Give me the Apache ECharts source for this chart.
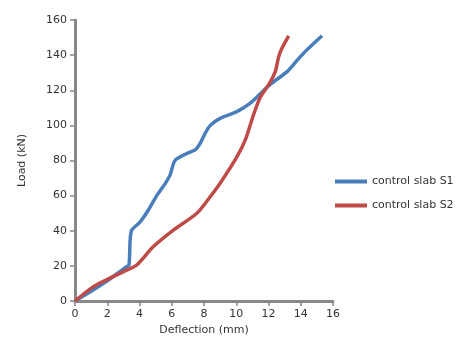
<!DOCTYPE html>
<html><head><meta charset="utf-8">
<script src="https://cdn.jsdelivr.net/npm/echarts@6/dist/echarts.min.js"></script>
<style>html,body{margin:0;padding:0;background:#fff}#c{width:466px;height:346px}</style>
</head><body><div id="c"></div>
<script>
const s1Name = "control slab S1";
const s2Name = "control slab S2";
const s1X = [0, 1, 2, 3.2, 3.35, 3.42, 3.52, 4.04, 4.55, 5.07, 5.6, 5.9, 6.2, 6.94, 7.45, 7.76, 8.07, 8.39, 9.0, 10.04, 10.87, 11.6, 12.2, 13.15, 13.77, 14.39, 15.32];
const s1Y = [0, 5.5, 11.5, 19.5, 20.5, 34.7, 40.4, 45, 51.8, 60, 67, 71.8, 80, 84, 86, 89.8, 95.5, 100, 104, 107.8, 112.6, 119, 124, 130.6, 137, 143, 151];
const s2X = [0, 1.14, 2.17, 3.2, 3.83, 4.86, 6.1, 7.56, 8.39, 9.0, 10.04, 10.56, 11.07, 11.49, 12.0, 12.42, 12.63, 12.84, 13.25];
const s2Y = [0, 8.2, 13, 17.6, 20.5, 31, 40.4, 50, 59.4, 67, 82, 91.7, 106, 116, 123, 130.6, 139, 144, 151];
const xTicks = [0, 2, 4, 6, 8, 10, 12, 14, 16];
const yTicks = [0, 20, 40, 60, 80, 100, 120, 140, 160];

const font = "DejaVu Sans";
const pairs = (xs, ys) => xs.map((x, i) => [x, ys[i]]);
const axisCommon = {
  axisLine: {show: true, lineStyle: {color: '#888', width: 3}},
  axisTick: {show: true, length: 5, lineStyle: {color: '#888', width: 1.5}},
  splitLine: {show: false},
  axisLabel: {color: '#333', fontFamily: font, fontSize: 11},
  nameTextStyle: {color: '#333', fontFamily: font, fontSize: 11}
};
const chart = echarts.init(document.getElementById('c'));
chart.setOption({
  animation: false,
  grid: {left: 75, top: 20, right: 133, bottom: 45},
  xAxis: Object.assign({}, axisCommon, {
    type: 'value', min: xTicks[0], max: xTicks[xTicks.length - 1], interval: 2,
    name: 'Deflection (mm)', nameLocation: 'middle', nameGap: 22
  }),
  yAxis: Object.assign({}, axisCommon, {
    type: 'value', min: yTicks[0], max: yTicks[yTicks.length - 1], interval: 20,
    name: 'Load (kN)', nameLocation: 'middle', nameGap: 47
  }),
  legend: {
    orient: 'vertical', left: 330, top: 171, itemWidth: 32, itemHeight: 4, itemGap: 13,
    icon: 'rect',
    textStyle: {color: '#333', fontFamily: font, fontSize: 11},
    data: [s1Name, s2Name]
  },
  series: [
    {name: s1Name, type: 'line', data: pairs(s1X, s1Y), showSymbol: false, smooth: 0.25,
     lineStyle: {color: '#4A7EBB', width: 3.5}, itemStyle: {color: '#4A7EBB'}},
    {name: s2Name, type: 'line', data: pairs(s2X, s2Y), showSymbol: false, smooth: 0.25,
     lineStyle: {color: '#BE4B48', width: 3.5}, itemStyle: {color: '#BE4B48'}}
  ]
});
</script></body></html>
